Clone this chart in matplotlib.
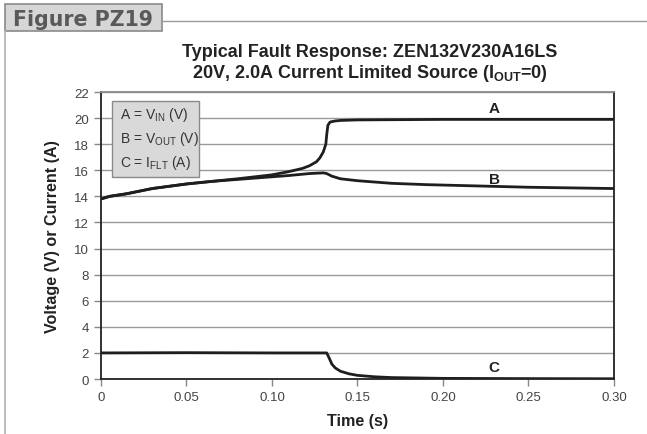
import matplotlib
matplotlib.use("Agg")
import matplotlib.pyplot as plt
from matplotlib.patches import Rectangle
from matplotlib.lines import Line2D

plt.rcParams["font.family"] = ["Liberation Sans", "DejaVu Sans"]
plt.rcParams["mathtext.fontset"] = "custom"
plt.rcParams["mathtext.rm"] = "Liberation Sans"
plt.rcParams["mathtext.bf"] = "Liberation Sans:bold"
plt.rcParams["mathtext.it"] = "Liberation Sans:italic"
plt.rcParams["mathtext.default"] = "regular"

# curve A : V_IN
t_a = [0, 0.005, 0.015, 0.03, 0.05, 0.065, 0.08, 0.1, 0.11, 0.118, 0.122, 0.126, 0.128,
       0.13, 0.1315, 0.132, 0.1327, 0.134, 0.137, 0.14, 0.15, 0.2, 0.3]
v_a = [13.8, 14.0, 14.2, 14.6, 14.95, 15.15, 15.35, 15.65, 15.9, 16.15, 16.35, 16.65, 16.95,
       17.4, 18.0, 18.7, 19.45, 19.7, 19.78, 19.82, 19.86, 19.9, 19.9]

# curve B : V_OUT
t_b = [0, 0.005, 0.015, 0.03, 0.05, 0.065, 0.08, 0.1, 0.11, 0.122, 0.13, 0.132,
       0.135, 0.14, 0.15, 0.17, 0.19, 0.22, 0.25, 0.3]
v_b = [13.8, 14.0, 14.2, 14.6, 14.95, 15.15, 15.3, 15.5, 15.6, 15.75, 15.8, 15.75,
       15.55, 15.35, 15.2, 15.0, 14.9, 14.8, 14.7, 14.6]

# curve C : I_FLT
t_c = [0, 0.05, 0.1, 0.132, 0.1335, 0.135, 0.137, 0.14, 0.145, 0.15, 0.16, 0.17,
       0.2, 0.25, 0.3]
i_c = [2.0, 2.02, 2.0, 2.0, 1.6, 1.15, 0.85, 0.6, 0.4, 0.28, 0.17, 0.11,
       0.05, 0.03, 0.02]

x_ticks = [0, 0.05, 0.10, 0.15, 0.20, 0.25, 0.30]
x_labels = ["0", "0.05", "0.10", "0.15", "0.20", "0.25", "0.30"]
y_ticks = list(range(0, 24, 2))

legend_lines = [r"A = V$_{IN}$ (V)", r"B = V$_{OUT}$ (V)", r"C = I$_{FLT}$ (A)"]

fig = plt.figure(figsize=(6.47, 4.35), dpi=100)
ax = fig.add_axes([0.156, 0.1264, 0.793, 0.6598])

curve_col = "#1e1e1e"
ax.plot(t_a, v_a, color=curve_col, lw=2.0, solid_capstyle="butt")
ax.plot(t_b, v_b, color=curve_col, lw=2.0, solid_capstyle="butt")
ax.plot(t_c, i_c, color=curve_col, lw=2.0, solid_capstyle="butt")

ax.set_xlim(0, 0.3)
ax.set_ylim(0, 22)
ax.set_xticks(x_ticks)
ax.set_xticklabels(x_labels)
ax.set_yticks(y_ticks)
ax.yaxis.grid(True, color="#9a9a9a", lw=1.0)
ax.set_axisbelow(True)
ax.tick_params(colors="#888888", labelcolor="#444444", labelsize=9.5, length=5, width=1)

ax.spines["left"].set_color("#222222")
ax.spines["bottom"].set_color("#222222")
ax.spines["right"].set_color("#222222")
ax.spines["top"].set_color("#8a8a8a")
for s in ax.spines.values():
    s.set_linewidth(1.3)

ax.set_xlabel("Time (s)", fontsize=11.6, fontweight="bold", color="#222222", labelpad=7)
ax.set_ylabel("Voltage (V) or Current (A)", fontsize=11.6, fontweight="bold",
              color="#222222", labelpad=10)

# curve labels
ax.text(0.230, 20.75, "A", fontsize=11, fontweight="bold", ha="center", va="center", color="#222222")
ax.text(0.230, 15.35, "B", fontsize=11, fontweight="bold", ha="center", va="center", color="#222222")
ax.text(0.230, 0.9, "C", fontsize=11, fontweight="bold", ha="center", va="center", color="#222222")

# legend box
ax.add_patch(Rectangle((0.022, 0.705), 0.17, 0.265, transform=ax.transAxes,
                       facecolor="#d9d9d9", edgecolor="#8a8a8a", lw=1.0, zorder=3))
for k, s in enumerate(legend_lines):
    ax.text(0.038, 0.925 - k * 0.085, s, transform=ax.transAxes, fontsize=10,
            color="#333333", va="center", ha="left", zorder=4)

# title
fig.text(0.572, 1 - 57 / 435, "Typical Fault Response: ZEN132V230A16LS", fontsize=13,
         fontweight="bold", ha="center", va="baseline", color="#222222")
fig.text(0.572, 1 - 78 / 435, r"20V, 2.0A Current Limited Source (I$_{\mathbf{OUT}}$=0)",
         fontsize=13, fontweight="bold", ha="center", va="baseline", color="#222222")

# figure header frame
fig.patches.append(Rectangle((5 / 647, 1 - 32 / 435), 157 / 647, 27 / 435,
                             transform=fig.transFigure, facecolor="#d6d6d6",
                             edgecolor="#8a8a8a", lw=1.2))
fig.text(13 / 647, 1 - 26.5 / 435, "Figure PZ19", fontsize=14.8, fontweight="bold",
         family="DejaVu Sans", color="#595959", va="baseline", ha="left")
fig.lines.append(Line2D([162 / 647, 1], [1 - 22 / 435, 1 - 22 / 435],
                        transform=fig.transFigure, color="#9a9a9a", lw=1.0))
fig.lines.append(Line2D([4.5 / 647, 4.5 / 647], [0, 1 - 32 / 435],
                        transform=fig.transFigure, color="#b0b0b0", lw=1.2))

fig.savefig("out.png", dpi=100)
